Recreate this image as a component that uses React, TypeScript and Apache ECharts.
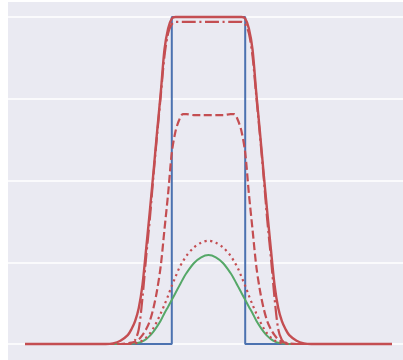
import React, { useEffect, useRef } from "react";
import * as echarts from "echarts";

const xs = [-5, -3, -2.8, -2.6, -2.4, -2.2, -2.1, -2.0, -1.9, -1.8, -1.7, -1.6, -1.5, -1.4, -1.3, -1.2, -1.1, -1.0, -0.9, -0.8, -0.7, -0.6, -0.4, -0.2, 0, 0.2, 0.4, 0.6, 0.7, 0.8, 0.9, 1.0, 1.1, 1.2, 1.3, 1.4, 1.5, 1.6, 1.7, 1.8, 1.9, 2.0, 2.1, 2.2, 2.4, 2.6, 2.8, 3, 5];

const rectX = [-5, -1, -1, 1, 1, 5];
const rectY = [0, 0, 1, 1, 0, 0];

const gaussVals = [0, 0, 0, 0, 0, 0, 0.001, 0.002, 0.004, 0.008, 0.015, 0.025, 0.038, 0.054, 0.072, 0.094, 0.114, 0.135, 0.156, 0.177, 0.198, 0.217, 0.247, 0.265, 0.272, 0.265, 0.247, 0.217, 0.198, 0.177, 0.156, 0.135, 0.114, 0.094, 0.072, 0.054, 0.038, 0.025, 0.015, 0.008, 0.004, 0.002, 0.001, 0, 0, 0, 0, 0, 0];

const dottedVals = [0, 0, 0, 0, 0, 0, 0.001, 0.002, 0.005, 0.011, 0.02, 0.032, 0.049, 0.07, 0.094, 0.12, 0.148, 0.178, 0.205, 0.232, 0.252, 0.27, 0.295, 0.31, 0.316, 0.31, 0.295, 0.27, 0.252, 0.232, 0.205, 0.178, 0.148, 0.12, 0.094, 0.07, 0.049, 0.032, 0.02, 0.011, 0.005, 0.002, 0.001, 0, 0, 0, 0, 0, 0];

const dashedVals = [0, 0, 0, 0, 0, 0.002, 0.004, 0.007, 0.014, 0.027, 0.045, 0.07, 0.11, 0.165, 0.24, 0.35, 0.46, 0.585, 0.65, 0.685, 0.703, 0.703, 0.7, 0.7, 0.7, 0.7, 0.7, 0.703, 0.703, 0.685, 0.65, 0.585, 0.46, 0.35, 0.24, 0.165, 0.11, 0.07, 0.045, 0.027, 0.014, 0.007, 0.004, 0.002, 0, 0, 0, 0, 0];

const dashDotVals = [0, 0, 0, 0, 0, 0, 0.003, 0.012, 0.045, 0.14, 0.265, 0.38, 0.515, 0.64, 0.76, 0.88, 0.95, 0.978, 0.985, 0.985, 0.985, 0.985, 0.985, 0.985, 0.985, 0.985, 0.985, 0.985, 0.985, 0.985, 0.985, 0.978, 0.95, 0.88, 0.76, 0.64, 0.515, 0.38, 0.265, 0.14, 0.045, 0.012, 0.003, 0, 0, 0, 0, 0, 0];

const solidVals = [0, 0, 0, 0.002, 0.01, 0.027, 0.045, 0.07, 0.11, 0.18, 0.29, 0.405, 0.525, 0.65, 0.77, 0.9, 0.965, 0.995, 1, 1, 1, 1, 1, 1, 1, 1, 1, 1, 1, 1, 1, 0.995, 0.965, 0.9, 0.77, 0.65, 0.525, 0.405, 0.29, 0.18, 0.11, 0.07, 0.045, 0.027, 0.01, 0.002, 0, 0, 0];

const yGridValues = [0, 0.25, 0.5, 0.75, 1.0];

const BLUE = "#4C72B0";
const GREEN = "#55A868";
const RED = "#C44E52";

const pairs = (x: number[], y: number[]) => x.map((v, i) => [v, y[i]]);

export default function App() {
  const ref = useRef<HTMLDivElement>(null);
  useEffect(() => {
    document.body.style.margin = "0";
    document.body.style.overflow = "hidden";
    if (!ref.current) return;
    const chart = echarts.init(ref.current, undefined, { renderer: "svg" });
    const pxPerUnit = 36.7;
    const gridLeft = 8;
    const xMin = -5 - (25 - gridLeft) / pxPerUnit;
    const gridW = 403 - gridLeft;
    const xMax = xMin + gridW / pxPerUnit;
    const lineBase = { type: "line", showSymbol: false, symbol: "none", silent: true, z: 3 };
    chart.setOption({
      animation: false,
      grid: {
        left: gridLeft,
        top: 2,
        width: gridW,
        height: 358,
        show: true,
        backgroundColor: "#EAEAF2",
        borderWidth: 0,
      },
      xAxis: {
        type: "value",
        min: xMin,
        max: xMax,
        axisLine: { show: false },
        axisTick: { show: false },
        axisLabel: { show: false },
        splitLine: { show: false },
      },
      yAxis: {
        type: "value",
        min: -16 / 327,
        max: 342 / 327,
        axisLine: { show: false },
        axisTick: { show: false },
        axisLabel: { show: false },
        splitLine: { show: false },
      },
      series: [
        {
          ...lineBase,
          z: 1,
          data: [[-5, 0]],
          lineStyle: { opacity: 0 },
          markLine: {
            z: 1,
            silent: true,
            symbol: ["none", "none"],
            label: { show: false },
            lineStyle: { color: "#ffffff", width: 1.5, type: "solid" },
            data: yGridValues.map((v) => ({ yAxis: v })),
          },
        },
        { ...lineBase, smooth: false, data: pairs(rectX, rectY), lineStyle: { color: BLUE, width: 2 } },
        { ...lineBase, smooth: 0.3, data: pairs(xs, gaussVals), lineStyle: { color: GREEN, width: 2 } },
        { ...lineBase, smooth: 0.3, data: pairs(xs, dottedVals), lineStyle: { color: RED, width: 2.2, type: [2.2, 3.6] } },
        { ...lineBase, smooth: 0.3, data: pairs(xs, dashedVals), lineStyle: { color: RED, width: 2.2, type: [8, 3.5] } },
        { ...lineBase, smooth: 0.3, data: pairs(xs, dashDotVals), lineStyle: { color: RED, width: 2.2, type: [14, 3.5, 2.2, 3.5] } },
        { ...lineBase, smooth: 0.3, data: pairs(xs, solidVals), lineStyle: { color: RED, width: 2.4 } },
      ],
    });
    return () => chart.dispose();
  }, []);
  return <div ref={ref} style={{ width: 403, height: 360 }} />;
}
